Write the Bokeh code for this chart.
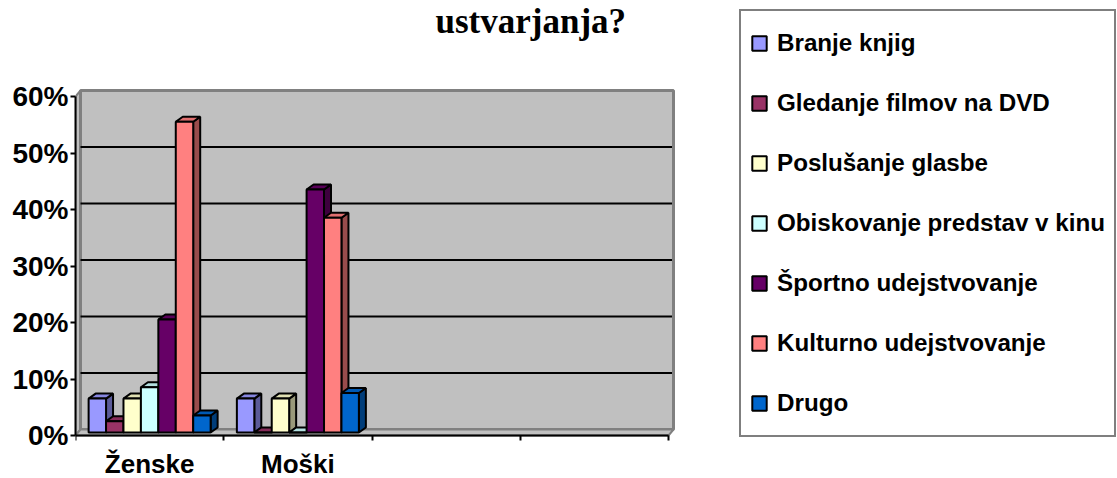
from bokeh.plotting import figure
from bokeh.models import (Range1d, FixedTicker, NumeralTickFormatter, Legend,
                          LegendItem, Label)
from bokeh.embed import file_html
from bokeh.resources import INLINE

# ---------------- data ----------------
categories = ["Ženske", "Moški", "", ""]
series = ["Branje knjig", "Gledanje filmov na DVD", "Poslušanje glasbe",
          "Obiskovanje predstav v kinu", "Športno udejstvovanje",
          "Kulturno udejstvovanje", "Drugo"]
zenske = [0.06, 0.02, 0.06, 0.08, 0.20, 0.55, 0.03]
moski = [0.06, 0.00, 0.06, 0.00, 0.43, 0.38, 0.07]
colors = ["#9999FF", "#993366", "#FFFFCC", "#CCFFFF", "#660066", "#FF8080", "#0066CC"]
y_ticks = [0.0, 0.1, 0.2, 0.3, 0.4, 0.5, 0.6]
title_text = "ustvarjanja?"

# ---------------- layout ----------------
W, H = 1117, 478
FL = 75                          # left border (px); frame fills the rest
FW, FH = W - FL, H
AX_Y = 435                       # screen y of the front x axis
n_cat = len(categories)
y_max = y_ticks[-1]
XPX = 593 / n_cat                # px per x data unit (front plane)
YPX = 339 / y_max                # px per y data unit
wx, wy = 5 / XPX, 6 / YPX        # depth of the 3-D box
x_end = FW / XPX
y_start = -(H - AX_Y) / YPX
y_end = AX_Y / YPX

p = figure(width=W, height=H, x_range=Range1d(0, x_end), y_range=Range1d(y_start, y_end),
           output_backend="svg", toolbar_location=None,
           min_border_left=FL, min_border_right=0,
           min_border_top=0, min_border_bottom=0)
p.outline_line_color = None
p.xgrid.visible = False
p.ygrid.visible = False
p.background_fill_color = "white"
p.border_fill_color = "white"

# walls & floor
WALL = "#C0C0C0"
EDGE = "#808080"
p.patch([0, wx, wx, 0], [0, wy, y_max + wy, y_max], fill_color=WALL,
        line_color=EDGE, line_width=2)
p.quad(left=wx, right=n_cat + wx, bottom=wy, top=y_max + wy, fill_color=WALL,
       line_color=EDGE, line_width=3)
p.patch([0, n_cat, n_cat + wx, wx], [0, 0, wy, wy], fill_color=WALL,
        line_color=EDGE, line_width=2)
# gridlines on the back wall
gy = [t + wy for t in y_ticks[1:-1]]
p.segment(x0=[wx] * len(gy), x1=[n_cat + wx - 0.01] * len(gy), y0=gy, y1=gy,
          line_color="black", line_width=2)


def shade(hexcol, f):
    r, g, b = int(hexcol[1:3], 16), int(hexcol[3:5], 16), int(hexcol[5:7], 16)
    return "#%02x%02x%02x" % (int(r * f), int(g * f), int(b * f))


bar_w = 17.43 / XPX
by0 = 3 / YPX
bdx, bdy = 7 / XPX, 5 / YPX

items = []
for i, name in enumerate(series):
    vals = [zenske[i], moski[i]]
    lefts = [c + 0.5 - 3.5 * bar_w + i * bar_w for c in range(len(vals))]
    rights = [l + bar_w for l in lefts]
    tops = [by0 + v for v in vals]
    p.patches(xs=[[r, r + bdx, r + bdx, r] for r in rights],
              ys=[[by0, by0 + bdy, t + bdy, t] for t in tops],
              fill_color=shade(colors[i], 0.6), line_color="black", line_width=2)
    p.patches(xs=[[l, l + bdx, r + bdx, r] for l, r in zip(lefts, rights)],
              ys=[[t, t + bdy, t + bdy, t] for t in tops],
              fill_color=shade(colors[i], 0.88), line_color="black", line_width=2)
    fr = p.quad(left=lefts, right=rights, bottom=[by0] * len(vals), top=tops,
                fill_color=colors[i], line_color="black", line_width=2)
    items.append(LegendItem(label=name, renderers=[fr]))

# axes
xa = p.xaxis[0]
xa.fixed_location = 0
centers = [c + 0.5 for c, lab in enumerate(categories) if lab]
xa.ticker = FixedTicker(ticks=centers, minor_ticks=list(range(n_cat + 1)))
xa.major_label_overrides = {c + 0.5: lab for c, lab in enumerate(categories) if lab}
xa.bounds = (0, n_cat)
xa.axis_line_color = "black"
xa.axis_line_width = 2
xa.major_tick_line_color = None
xa.major_tick_out = 0
xa.major_tick_in = 0
xa.minor_tick_line_color = "black"
xa.minor_tick_line_width = 2
xa.minor_tick_out = 5
xa.minor_tick_in = 0
xa.major_label_standoff = 8
xa.major_label_text_font = "Liberation Sans"
xa.major_label_text_font_style = "bold"
xa.major_label_text_font_size = "26px"
xa.major_label_text_color = "black"

ya = p.yaxis[0]
ya.ticker = FixedTicker(ticks=y_ticks)
ya.formatter = NumeralTickFormatter(format="0%")
ya.bounds = (0, y_max)
ya.axis_line_color = "black"
ya.axis_line_width = 2
ya.major_tick_line_color = "black"
ya.major_tick_line_width = 2
ya.major_tick_out = 5
ya.major_tick_in = 0
ya.minor_tick_line_color = None
ya.major_label_standoff = 2
ya.major_label_text_font = "Liberation Sans"
ya.major_label_text_font_style = "bold"
ya.major_label_text_font_size = "28px"
ya.major_label_text_color = "black"

legend = Legend(items=items, location=(664, H - 437), margin=0, padding=9, spacing=14,
                label_height=46, glyph_height=18, glyph_width=18, label_standoff=9,
                label_text_font="Liberation Sans", label_text_font_style="bold",
                label_text_font_size="24.2px", label_text_color="black",
                border_line_color="black", border_line_width=2.5,
                background_fill_color="white", background_fill_alpha=1.0)
p.add_layout(legend)

p.add_layout(Label(x=435 - FL, y=H - 1, x_units="screen", y_units="screen", text=title_text,
                   text_font="Liberation Serif", text_font_style="bold",
                   text_font_size="35px", text_baseline="top", text_color="black"))

open("out.html", "w").write(file_html(p, INLINE))
